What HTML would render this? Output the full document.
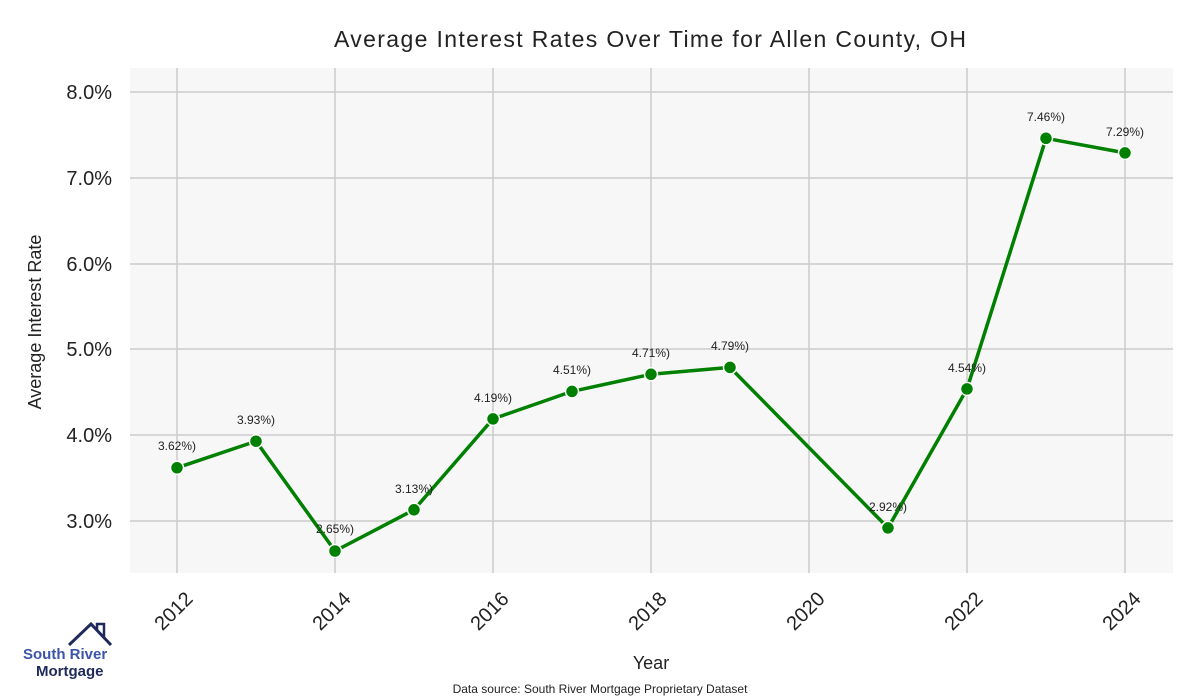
<!DOCTYPE html>
<html><head><meta charset="utf-8"><style>body{margin:0;background:#fff}svg{display:block;font-family:"Liberation Sans",sans-serif}</style></head><body>
<svg width="1200" height="700" viewBox="0 0 1200 700">
<rect x="130" y="68" width="1043" height="505" fill="#f7f7f7"/>
<g stroke="#cccccc" stroke-width="1.5">
<line x1="177" y1="68" x2="177" y2="573"/><line x1="335" y1="68" x2="335" y2="573"/><line x1="493" y1="68" x2="493" y2="573"/><line x1="651" y1="68" x2="651" y2="573"/><line x1="809" y1="68" x2="809" y2="573"/><line x1="967" y1="68" x2="967" y2="573"/><line x1="1125" y1="68" x2="1125" y2="573"/>
<line x1="130" y1="92" x2="1173" y2="92"/><line x1="130" y1="178" x2="1173" y2="178"/><line x1="130" y1="264" x2="1173" y2="264"/><line x1="130" y1="349" x2="1173" y2="349"/><line x1="130" y1="435" x2="1173" y2="435"/><line x1="130" y1="521" x2="1173" y2="521"/>
</g>
<text x="650" y="47" text-anchor="middle" font-size="23" fill="#222" textLength="632">Average Interest Rates Over Time for Allen County, OH</text>
<g font-size="20" fill="#222" text-anchor="end">
<text x="112" y="99">8.0%</text><text x="112" y="185">7.0%</text><text x="112" y="271">6.0%</text><text x="112" y="356">5.0%</text><text x="112" y="442">4.0%</text><text x="112" y="528">3.0%</text>
</g>
<text transform="translate(41,322) rotate(-90)" text-anchor="middle" font-size="18" fill="#222">Average Interest Rate</text>
<g font-size="20" fill="#222" text-anchor="end">
<text transform="translate(194,600) rotate(-45)">2012</text><text transform="translate(352,600) rotate(-45)">2014</text><text transform="translate(510,600) rotate(-45)">2016</text><text transform="translate(668,600) rotate(-45)">2018</text><text transform="translate(826,600) rotate(-45)">2020</text><text transform="translate(984,600) rotate(-45)">2022</text><text transform="translate(1142,600) rotate(-45)">2024</text>
</g>
<text x="651" y="669" text-anchor="middle" font-size="18" fill="#222">Year</text>
<text x="600" y="693" text-anchor="middle" font-size="12" fill="#222">Data source: South River Mortgage Proprietary Dataset</text>
<polyline fill="none" stroke="#008000" stroke-width="3.5" stroke-linejoin="round" points="177,467.8 256,441.2 335,551 414,509.8 493,418.9 572,391.4 651,374.3 730,367.4 888,527.9 967,388.9 1046,138.3 1125,152.9"/>
<g fill="#008000" stroke="#fff" stroke-width="1.5">
<circle cx="177" cy="467.8" r="6.5"/><circle cx="256" cy="441.2" r="6.5"/><circle cx="335" cy="551" r="6.5"/><circle cx="414" cy="509.8" r="6.5"/><circle cx="493" cy="418.9" r="6.5"/><circle cx="572" cy="391.4" r="6.5"/><circle cx="651" cy="374.3" r="6.5"/><circle cx="730" cy="367.4" r="6.5"/><circle cx="888" cy="527.9" r="6.5"/><circle cx="967" cy="388.9" r="6.5"/><circle cx="1046" cy="138.3" r="6.5"/><circle cx="1125" cy="152.9" r="6.5"/>
</g>
<g font-size="12" fill="#222" text-anchor="middle">
<text x="177" y="450">3.62%)</text><text x="256" y="424">3.93%)</text><text x="335" y="533">2.65%)</text><text x="414" y="493">3.13%)</text><text x="493" y="402">4.19%)</text><text x="572" y="374">4.51%)</text><text x="651" y="357">4.71%)</text><text x="730" y="350">4.79%)</text><text x="888" y="511">2.92%)</text><text x="967" y="372">4.54%)</text><text x="1046" y="121">7.46%)</text><text x="1125" y="136">7.29%)</text>
</g>
<polyline fill="none" stroke="#1f2a5c" stroke-width="3" points="69,645 91,624 111,645"/>
<polyline fill="none" stroke="#1f2a5c" stroke-width="2.5" points="97,630 97,624 104,624 104,637"/>
<text x="23" y="659" font-size="15" font-weight="bold" fill="#3b55a8">South River</text>
<text x="36" y="676" font-size="15" font-weight="bold" fill="#1f2a5c">Mortgage</text>
</svg>
</body></html>
